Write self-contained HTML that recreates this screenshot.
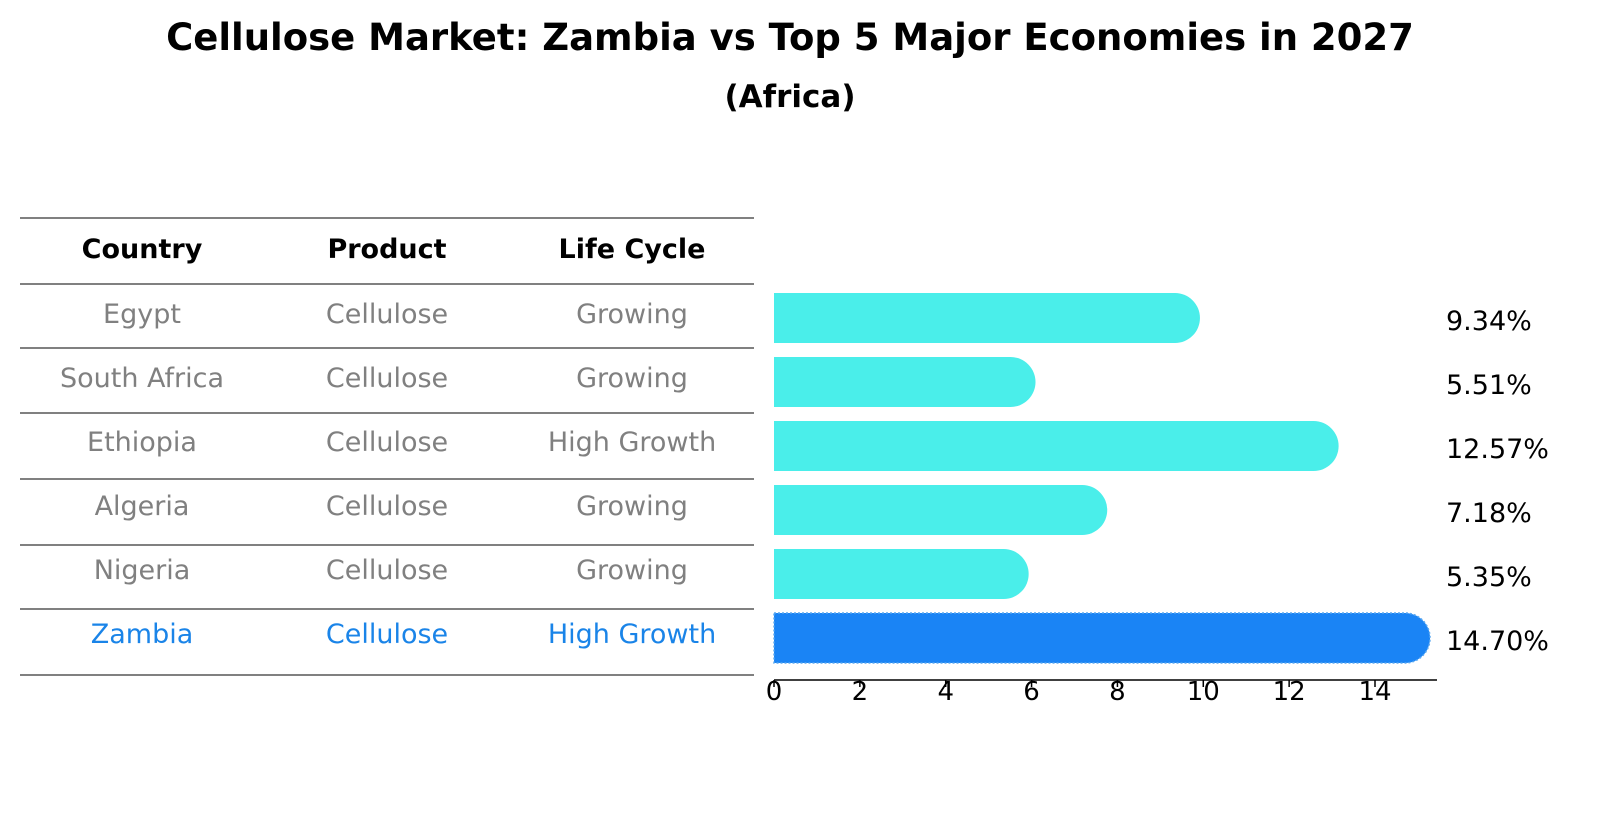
<!DOCTYPE html>
<html><head><meta charset="utf-8"><style>
body{margin:0;background:#fff;font-family:"Liberation Sans","DejaVu Sans",sans-serif;}
</style></head><body>
<svg width="1604" height="823" xmlns="http://www.w3.org/2000/svg" font-family="DejaVu Sans, Liberation Sans, sans-serif">
<text x="790" y="50" text-anchor="middle" font-size="37" font-weight="bold">Cellulose Market: Zambia vs Top 5 Major Economies in 2027</text>
<text x="790" y="107" text-anchor="middle" font-size="31" font-weight="bold">(Africa)</text>
<g id="table"></g>
<g id="bars"></g>
</svg>
<script>
const countries=["Egypt","South Africa","Ethiopia","Algeria","Nigeria","Zambia"];
const products=["Cellulose","Cellulose","Cellulose","Cellulose","Cellulose","Cellulose"];
const lifecycles=["Growing","Growing","High Growth","Growing","Growing","High Growth"];
const values=[9.34,5.51,12.57,7.18,5.35,14.70];
const valueLabels=["9.34%","5.51%","12.57%","7.18%","5.35%","14.70%"];
const ticks=[0,2,4,6,8,10,12,14];
const NS="http://www.w3.org/2000/svg";
function mk(t,a,p){const e=document.createElementNS(NS,t);for(const k in a)e.setAttribute(k,a[k]);p.appendChild(e);return e;}
const x0=774,sc=(1375-774)/14;
const xs=v=>x0+v*sc;
const rowY=i=>318+i*64;
const tbl=document.getElementById('table'),bars=document.getElementById('bars');
const lineYs=[218,284,348,413,479,545,609,675];
lineYs.forEach((y,i)=>{const l=mk('line',{x1:20,x2:754,y1:y,y2:y,stroke:'#000','stroke-width':1},tbl);
});
const colX=[142,387,632];
["Country","Product","Life Cycle"].forEach((h,j)=>{const t=mk('text',{x:colX[j],y:258,'text-anchor':'middle','font-size':27,'font-weight':'bold'},tbl);t.textContent=h;
});
countries.forEach((c,i)=>{
 const hl=c==="Zambia";const col=hl?'#1a84e8':'#808080';
 [c,products[i],lifecycles[i]].forEach((v,j)=>{const t=mk('text',{x:colX[j],y:rowY(i)+5,'text-anchor':'middle','font-size':27,fill:col},tbl);t.textContent=v;
 });
 const y=rowY(i)-25,h=50,xe=xs(values[i]),r=25;
 const p=mk('path',{d:`M${x0} ${y} H${xe} A${r} ${r} 0 0 1 ${xe} ${y+h} H${x0} Z`,fill:hl?'#1a84f5':'#4aeeea'},bars);
 if(hl){p.setAttribute('stroke','#5aa8f0');p.setAttribute('stroke-dasharray','2 2');p.setAttribute('stroke-width','1.5');}
 
 const t=mk('text',{x:1446,y:rowY(i)+12,'font-size':27},bars);t.textContent=valueLabels[i];
 
});
const ax=mk('line',{x1:x0,x2:1437,y1:680,y2:680,stroke:'#000','stroke-width':1.5},bars);

ticks.forEach(v=>{const l=mk('line',{x1:xs(v),x2:xs(v),y1:680,y2:687,stroke:'#000','stroke-width':1.5},bars);

const t=mk('text',{x:xs(v),y:700,'text-anchor':'middle','font-size':26},bars);t.textContent=v;
});
</script>
</body></html>
